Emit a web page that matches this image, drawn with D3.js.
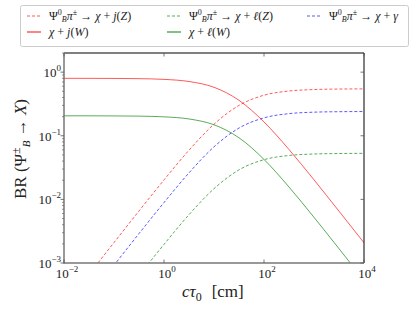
<!DOCTYPE html>
<html>
<head>
<meta charset="utf-8">
<script src="https://cdn.jsdelivr.net/npm/d3@7"></script>
<style>
  body { margin: 0; background: #fff; }
</style>
</head>
<body>
<div class="container"></div>
<script>
const W = 415, H = 311;
const margin = {top: 53, right: 51, bottom: 48, left: 64};
const width = W - margin.left - margin.right,
      height = H - margin.top - margin.bottom;
const serif = "'Liberation Serif', 'DejaVu Serif', serif";

// c*tau0 sample points [cm]
const ctau = [0.01, 0.0316, 0.1, 0.316, 1, 3.16, 10, 31.6, 100, 316, 1000, 3162, 10000];

const jW = [0.7997, 0.799, 0.7969, 0.790, 0.770, 0.713, 0.578, 0.361, 0.165, 0.0608, 0.0203, 0.00653, 0.00208];
const lW = [0.2059, 0.2058, 0.2052, 0.2035, 0.1984, 0.1837, 0.1488, 0.0930, 0.0425, 0.01566, 0.00522, 0.00168, 0.000534];
const jZ = [0.000211, 0.000664, 0.002095, 0.00657, 0.02024, 0.0593, 0.152, 0.300, 0.434, 0.505, 0.533, 0.5425, 0.5456];
const gam = [0.0000928, 0.000293, 0.000923, 0.0029, 0.00892, 0.02612, 0.067, 0.1322, 0.1913, 0.2227, 0.2349, 0.239, 0.2404];
const lZ = [0.0000204, 0.0000643, 0.000203, 0.000637, 0.00196, 0.00575, 0.01472, 0.0291, 0.0421, 0.049, 0.0517, 0.0526, 0.0529];

const xTicks = [-2, 0, 2, 4];
const yTicks = [-3, -2, -1, 0];

const series = [
  {name: "jZ", values: jZ, color: "#ff0000", dash: "3,2"},
  {name: "lZ", values: lZ, color: "#008000", dash: "3,2"},
  {name: "gam", values: gam, color: "#0000ff", dash: "3,2"},
  {name: "jW", values: jW, color: "#ff0000", dash: null},
  {name: "lW", values: lW, color: "#008000", dash: null}
];

const svg = d3.select(".container")
  .append("svg")
  .attr("width", W)
  .attr("height", H)
  .style("font-family", serif);

const g = svg.append("g")
  .attr("transform", `translate(${margin.left}, ${margin.top})`);

const xScale = d3.scaleLog().domain([1e-2, 1e4]).range([0, width]);
const yScale = d3.scaleLog().domain([1e-3, 2]).range([height, 0]);

g.append("clipPath").attr("id", "clip")
  .append("rect").attr("width", width).attr("height", height);

const line = d3.line()
  .x(d => xScale(d[0]))
  .y(d => yScale(d[1]))
  .curve(d3.curveMonotoneX);

g.append("g").attr("clip-path", "url(#clip)")
  .selectAll(".series")
  .data(series)
  .join("path")
  .classed("series", true)
  .attr("d", d => line(ctau.map((c, i) => [c, d.values[i]])))
  .attr("fill", "none")
  .attr("stroke", d => d.color)
  .attr("stroke-opacity", 0.65)
  .attr("stroke-width", 1)
  .attr("stroke-dasharray", d => d.dash);

// spines
g.append("line").attr("x1", 0).attr("x2", width).attr("y1", 0).attr("y2", 0)
  .attr("stroke", "#000").attr("stroke-width", 1);
g.append("line").attr("x1", width).attr("x2", width).attr("y1", 0).attr("y2", height)
  .attr("stroke", "#000").attr("stroke-width", 1);
g.append("line").attr("x1", 0).attr("x2", 0).attr("y1", 0).attr("y2", height + 0.75)
  .attr("stroke", "#777").attr("stroke-width", 1.5);
g.append("line").attr("x1", 0).attr("x2", width).attr("y1", height).attr("y2", height)
  .attr("stroke", "#777").attr("stroke-width", 1.5);

// y minor ticks (left, outward)
const yMinor = [];
[-3, -2, -1, 0].forEach(e => d3.range(2, 10).forEach(k => {
  const v = k * Math.pow(10, e);
  if (v <= 2) yMinor.push(v);
}));
g.selectAll(".yminor").data(yMinor).join("line")
  .attr("x1", -2).attr("x2", 0)
  .attr("y1", d => yScale(d)).attr("y2", d => yScale(d))
  .attr("stroke", "#555").attr("stroke-width", 0.6);

// y major ticks
g.selectAll(".ymajor").data(yTicks).join("line")
  .attr("x1", -3.5).attr("x2", 0)
  .attr("y1", d => yScale(Math.pow(10, d))).attr("y2", d => yScale(Math.pow(10, d)))
  .attr("stroke", "#555").attr("stroke-width", 0.8);
g.selectAll(".yright").data(yTicks).join("line")
  .attr("x1", width - 3.5).attr("x2", width)
  .attr("y1", d => yScale(Math.pow(10, d))).attr("y2", d => yScale(Math.pow(10, d)))
  .attr("stroke", "#555").attr("stroke-width", 0.8);

// x major ticks (inside) bottom and top
g.selectAll(".xmajor").data(xTicks).join("line")
  .attr("x1", d => xScale(Math.pow(10, d))).attr("x2", d => xScale(Math.pow(10, d)))
  .attr("y1", height - 3.5).attr("y2", height)
  .attr("stroke", "#555").attr("stroke-width", 0.8);
g.selectAll(".xtop").data(xTicks).join("line")
  .attr("x1", d => xScale(Math.pow(10, d))).attr("x2", d => xScale(Math.pow(10, d)))
  .attr("y1", 0).attr("y2", 3.5)
  .attr("stroke", "#555").attr("stroke-width", 0.8);

// tick labels
const yl = g.selectAll(".ylab").data(yTicks).join("text")
  .attr("text-anchor", "end")
  .attr("x", -3)
  .attr("y", d => yScale(Math.pow(10, d)) + 5)
  .attr("fill", "#222")
  .style("font-size", "13px");
yl.append("tspan").text("10");
yl.append("tspan").attr("dy", -6).style("font-size", "9px")
  .text(d => d === 0 ? "0" : "\u2212" + (-d));

const xl = g.selectAll(".xlab").data(xTicks).join("text")
  .attr("text-anchor", "middle")
  .attr("x", d => xScale(Math.pow(10, d)) + 3)
  .attr("y", height + 15)
  .attr("fill", "#222")
  .style("font-size", "13px");
xl.append("tspan").text("10");
xl.append("tspan").attr("dy", -6).style("font-size", "9px")
  .text(d => d < 0 ? "\u2212" + (-d) : d);

// axis labels
const xt = svg.append("text")
  .attr("x", 182).attr("y", 297)
  .attr("fill", "#222")
  .style("font-size", "17px");
xt.append("tspan").style("font-style", "italic").text("c\u03c4");
xt.append("tspan").attr("dy", 4).style("font-size", "12px").text("0");
xt.append("tspan").attr("dy", -4).attr("dx", 10).text("[cm]");

const yt = svg.append("text")
  .attr("transform", "translate(26, 149) rotate(-90)")
  .attr("text-anchor", "middle")
  .attr("fill", "#222")
  .style("font-size", "17px");
yt.append("tspan").text("BR (\u03a8");
yt.append("tspan").attr("dy", -6).style("font-size", "12px").text("\u00b1");
yt.append("tspan").attr("dy", 10).style("font-size", "11px").style("font-style", "italic").text("B");
yt.append("tspan").attr("dy", -4).text(" \u2192 ");
yt.append("tspan").style("font-style", "italic").text("X");
yt.append("tspan").text(")");

// legend
const legend = svg.append("g");
legend.append("rect")
  .attr("x", 20.5).attr("y", 5.5).attr("width", 388).attr("height", 41)
  .attr("rx", 2).attr("fill", "#fff").attr("stroke", "#ccc").attr("stroke-width", 1);

const legendItems = [
  {s: series[0], x: 27, y: 16, label: "j(Z)", psi: true},
  {s: series[1], x: 167, y: 16, label: "\u2113(Z)", psi: true},
  {s: series[2], x: 307, y: 16, label: "\u03b3", psi: true},
  {s: series[3], x: 27, y: 32, label: "j(W)", psi: false},
  {s: series[4], x: 167, y: 32, label: "\u2113(W)", psi: false}
];

legendItems.forEach(it => {
  legend.append("line")
    .attr("x1", it.x).attr("x2", it.x + 14)
    .attr("y1", it.y).attr("y2", it.y)
    .attr("stroke", it.s.color).attr("stroke-opacity", 0.65)
    .attr("stroke-width", it.s.dash ? 1 : 1.5)
    .attr("stroke-dasharray", it.s.dash);
  const t = legend.append("text")
    .attr("x", it.x + 22).attr("y", it.y + 4)
    .attr("fill", "#222")
    .style("font-size", "12px");
  if (it.psi) {
    t.append("tspan").text("\u03a8");
    t.append("tspan").attr("dy", -5).style("font-size", "8px").text("0");
    t.append("tspan").attr("dy", 7).style("font-size", "8px").style("font-style", "italic").text("B");
    t.append("tspan").attr("dy", -2).style("font-style", "italic").text("\u03c0");
    t.append("tspan").attr("dy", -5).style("font-size", "8px").text("\u00b1");
    t.append("tspan").attr("dy", 5).text(" \u2192 ");
  }
  t.append("tspan").style("font-style", "italic").text("\u03c7");
  t.append("tspan").text(" + ");
  const m = it.label.match(/^(.)(.*)$/);
  t.append("tspan").style("font-style", "italic").text(m[1]);
  if (m[2]) {
    t.append("tspan").text("(");
    t.append("tspan").style("font-style", "italic").text(m[2].slice(1, 2));
    t.append("tspan").text(")");
  }
});
</script>
</body>
</html>
